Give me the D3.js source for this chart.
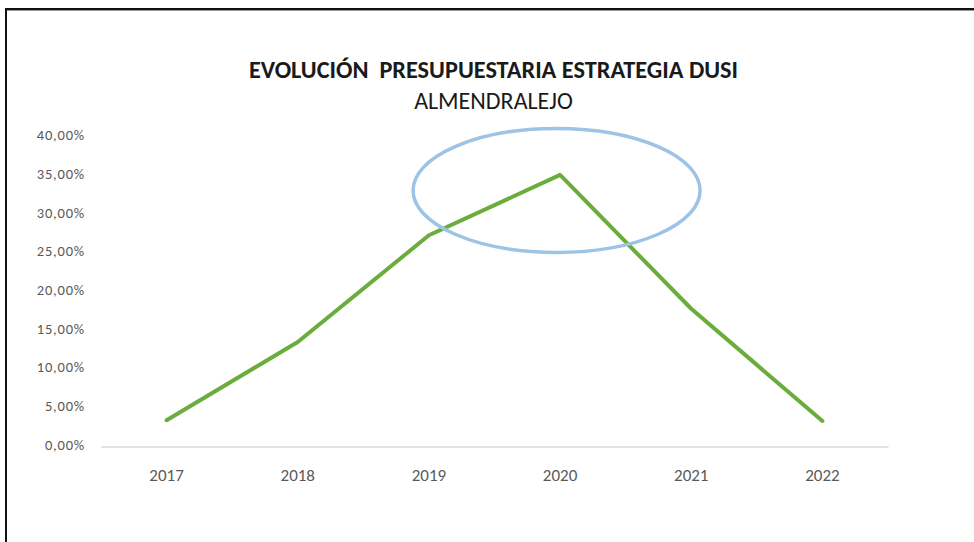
<!DOCTYPE html>
<html>
<head>
<meta charset="utf-8">
<script src="https://cdn.jsdelivr.net/npm/d3@7"></script>
<style>
  html, body { margin: 0; padding: 0; background: #ffffff; }
  svg { display: block; }
  text { font-family: Carlito, Lato, "Open Sans", sans-serif; white-space: pre; }
</style>
</head>
<body>
<svg id="chart" width="974" height="542"></svg>
<script>
// Budget share per year of the DUSI strategy
const years = ["2017", "2018", "2019", "2020", "2021", "2022"];
const shares = [0.034, 0.135, 0.273, 0.351, 0.178, 0.033];
const yTicks = [0, 0.05, 0.10, 0.15, 0.20, 0.25, 0.30, 0.35, 0.40];
const titleText = "EVOLUCIÓN  PRESUPUESTARIA ESTRATEGIA DUSI";
const subtitleText = "ALMENDRALEJO";
// Highlighted year (circled)
const highlightYear = "2020";

const svg = d3.select("#chart");
const W = 974, H = 542;

// Frame: dark top and left border with a soft shadow
svg.append("rect").attr("x", 6).attr("y", 9).attr("width", W).attr("height", H)
  .attr("fill", "#ffffff");
svg.append("line").attr("x1", 6).attr("x2", W).attr("y1", 10.5).attr("y2", 10.5)
  .attr("stroke", "#9a9a9a").attr("stroke-width", 1);
svg.append("line").attr("x1", 5).attr("x2", W).attr("y1", 9).attr("y2", 9)
  .attr("stroke", "#111").attr("stroke-width", 2);
svg.append("line").attr("x1", 6).attr("x2", 6).attr("y1", 8).attr("y2", H)
  .attr("stroke", "#111").attr("stroke-width", 2);

const plot = { left: 101, right: 888, top: 137, bottom: 446.5 };

const x = d3.scaleBand().domain(years).range([plot.left, plot.right]);
const y = d3.scaleLinear().domain([0, 0.40]).range([plot.bottom, plot.top]);

const fmt = v => d3.format(".2f")(v * 100).replace(".", ",") + "%";

// Y axis labels (no axis line)
const yAxis = svg.append("g").attr("transform", `translate(${plot.left},0)`)
  .call(d3.axisLeft(y).tickValues(yTicks).tickFormat(fmt).tickSize(0).tickPadding(16));
yAxis.select(".domain").remove();
yAxis.selectAll("text")
  .attr("fill", "#595959").attr("font-size", "14.5px")
  .attr("y", -2)
  .attr("letter-spacing", "0.8px");

// X axis baseline and labels
const xAxis = svg.append("g").attr("transform", `translate(0,${plot.bottom})`)
  .call(d3.axisBottom(x).tickSize(0).tickPadding(22));
xAxis.select(".domain").attr("stroke", "#d9d9d9").attr("stroke-width", 1.5);
xAxis.selectAll("text")
  .attr("fill", "#595959").attr("font-size", "17px");

// Data line
const line = d3.line()
  .x((d, i) => x(years[i]) + x.bandwidth() / 2)
  .y(d => y(d));
svg.append("path").datum(shares)
  .attr("d", line)
  .attr("fill", "none")
  .attr("stroke", "#6aad3d")
  .attr("stroke-width", 4)
  .attr("stroke-linecap", "round")
  .attr("stroke-linejoin", "round");

// Ellipse around the peak year
const hi = years.indexOf(highlightYear);
svg.append("ellipse")
  .attr("cx", x(highlightYear) + x.bandwidth() / 2 - 3.5)
  .attr("cy", y(shares[hi]) + 15.5)
  .attr("rx", 143.5)
  .attr("ry", 62)
  .attr("fill", "none")
  .attr("stroke", "#9dc3e6")
  .attr("stroke-width", 3.5);

// Titles
const cx = 493.5;
svg.append("text").attr("x", cx).attr("y", 78)
  .attr("text-anchor", "middle")
  .attr("font-size", "24.3px").attr("font-weight", "bold")
  .attr("fill", "#1a1a1a")
  .text(titleText);
svg.append("text").attr("x", cx).attr("y", 109)
  .attr("text-anchor", "middle")
  .attr("font-size", "24px")
  .attr("fill", "#1a1a1a")
  .text(subtitleText);
</script>
</body>
</html>
